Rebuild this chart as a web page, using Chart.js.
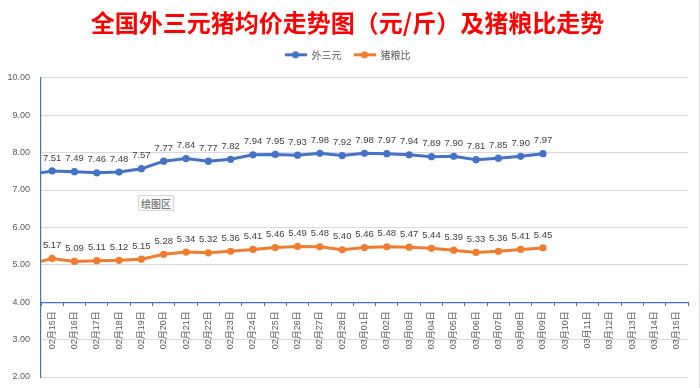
<!DOCTYPE html>
<html>
<head>
<meta charset="utf-8">
<script src="https://cdn.jsdelivr.net/npm/chart.js@4.4.1/dist/chart.umd.min.js"></script>
<style>
html,body{margin:0;padding:0;background:#fff;}
#wrap{position:relative;width:699px;height:388px;overflow:hidden;border-right:1px solid #dedede;}
#c{display:block;}
#tip{position:absolute;left:138px;top:195px;width:34px;height:14px;line-height:14px;text-align:center;
 border:1px solid #d6d6d6;background:#fafafa;color:#595959;font:10px "Noto Sans CJK SC",sans-serif;box-sizing:content-box;}
</style>
</head>
<body>
<div id="wrap"><canvas id="c" width="699" height="388"></canvas><div id="tip">绘图区</div></div>
<script>
// ---- data ----
const categories = [
  '02月15日','02月16日','02月17日','02月18日','02月19日','02月20日','02月21日','02月22日','02月23日','02月24日',
  '02月25日','02月26日','02月27日','02月28日','03月01日','03月02日','03月03日','03月04日','03月05日','03月06日',
  '03月07日','03月08日','03月09日','03月10日','03月11日','03月12日','03月13日','03月14日','03月15日'
];
const pigPrice = [7.51,7.49,7.46,7.48,7.57,7.77,7.84,7.77,7.82,7.94,7.95,7.93,7.98,7.92,7.98,7.97,7.94,7.89,7.90,7.81,7.85,7.90,7.97];
const grainRatio = [5.17,5.09,5.11,5.12,5.15,5.28,5.34,5.32,5.36,5.41,5.46,5.49,5.48,5.40,5.46,5.48,5.47,5.44,5.39,5.33,5.36,5.41,5.45];
// previous day (02月14日), only partly visible at the left edge of the plot
const leadInPigPrice = 7.41;
const leadInGrainRatio = 5.02;
const yTicks = [2,3,4,5,6,7,8,9,10];
const seriesNames = ['外三元','猪粮比'];
const titleText = '全国外三元猪均价走势图（元/斤）及猪粮比走势';

const BLUE = '#4472C4', ORANGE = '#ED7D31';
const FONT = '"Liberation Sans","Noto Sans CJK SC",sans-serif';

function toPoints(lead, vals){
  return [{x:-1, y:lead}].concat(vals.map((v,i)=>({x:i, y:v})));
}
function legendIcon(color){
  const c = document.createElement('canvas');
  c.width = 22; c.height = 9;
  const g = c.getContext('2d');
  g.strokeStyle = color; g.lineWidth = 3;
  g.beginPath(); g.moveTo(0,4.5); g.lineTo(22,4.5); g.stroke();
  g.fillStyle = color; g.beginPath(); g.arc(11,4.5,3.6,0,Math.PI*2); g.fill();
  return c;
}
const icons = [legendIcon(BLUE), legendIcon(ORANGE)];

const valueLabels = {
  id:'valueLabels',
  afterDatasetsDraw(chart){
    const ctx = chart.ctx;
    ctx.save();
    ctx.font = '9.5px ' + FONT;
    ctx.fillStyle = '#404040';
    ctx.textAlign = 'center';
    ctx.textBaseline = 'middle';
    chart.data.datasets.forEach((ds,di)=>{
      const meta = chart.getDatasetMeta(di);
      meta.data.forEach((el,i)=>{
        const raw = ds.data[i];
        if (raw.x < 0) return;
        ctx.fillText(raw.y.toFixed(2), el.x, el.y - 13);
      });
    });
    ctx.restore();
  }
};

// extra space under the legend (gap between legend and plot area)
const legendGap = {
  id:'legendGap',
  afterInit(chart){
    const lg = chart.legend;
    if (lg && !lg._gapPatched){
      const orig = lg.fit;
      lg.fit = function(){ orig.call(this); this.height += 8; };
      lg._gapPatched = true;
    }
  }
};

const pointR = ctx => (ctx.raw && ctx.raw.x < 0) ? 0 : 3.6;

new Chart(document.getElementById('c'), {
  type:'line',
  data:{
    datasets:[
      {label:seriesNames[0], data:toPoints(leadInPigPrice, pigPrice), borderColor:BLUE, backgroundColor:BLUE,
       borderWidth:3, pointRadius:pointR, pointHoverRadius:pointR, pointBackgroundColor:BLUE, pointBorderWidth:0,
       tension:0, clip:{left:0, right:false, top:false, bottom:false}},
      {label:seriesNames[1], data:toPoints(leadInGrainRatio, grainRatio), borderColor:ORANGE, backgroundColor:ORANGE,
       borderWidth:3, pointRadius:pointR, pointHoverRadius:pointR, pointBackgroundColor:ORANGE, pointBorderWidth:0,
       tension:0, clip:{left:0, right:false, top:false, bottom:false}}
    ]
  },
  options:{
    responsive:false,
    animation:false,
    events:[],
    layout:{padding:{left:7, right:11, top:0, bottom:11}},
    plugins:{
      title:{display:true, text:titleText, color:'#FF0000',
        font:{size:24, weight:'bold', family:'"Noto Sans CJK SC",sans-serif'}, padding:{top:8, bottom:1}},
      legend:{display:true, position:'top',
        labels:{usePointStyle:true, pointStyleWidth:22, boxHeight:10, padding:12, color:'#595959',
          font:{size:10, family:'"Noto Sans CJK SC",sans-serif'},
          generateLabels(chart){
            return chart.data.datasets.map((ds,i)=>({
              text:ds.label, pointStyle:icons[i], fillStyle:ds.borderColor, strokeStyle:ds.borderColor,
              lineWidth:0, hidden:false, datasetIndex:i, fontColor:'#595959'
            }));
          }}},
      tooltip:{enabled:false}
    },
    scales:{
      x:{type:'linear', position:{y:4}, min:-0.5, max:28.5,
        afterBuildTicks(scale){ scale.ticks = categories.map((_,i)=>({value:i})); },
        ticks:{autoSkip:false, maxRotation:90, minRotation:90, padding:9, color:'#595959',
          font:{size:9, family:FONT}, callback:(v)=>categories[v]},
        grid:{display:false, drawTicks:false},
        border:{display:true, color:BLUE, width:1.2}},
      x2:{type:'linear', axis:'x', position:{y:4}, min:-0.5, max:28.5,
        afterBuildTicks(scale){ scale.ticks = categories.concat(['']).map((_,i)=>({value:i-0.5})); },
        ticks:{display:false},
        grid:{display:true, drawOnChartArea:false, drawTicks:true, tickLength:4, color:BLUE, lineWidth:1},
        border:{display:false}},
      y:{type:'linear', position:'left', min:2, max:10,
        afterBuildTicks(scale){ scale.ticks = yTicks.map(v=>({value:v})); },
        afterFit(scale){ scale.width = 34; scale.paddingTop = 0; scale.paddingBottom = 0; },
        ticks:{padding:11, color:'#595959', font:{size:9, family:FONT}, callback:(v)=>Number(v).toFixed(2)},
        grid:{drawTicks:false, lineWidth:1, color:(c)=> (c.tick && c.tick.value === 4) ? BLUE : '#d9d9d9'},
        border:{display:true, color:BLUE, width:1.2}}
    }
  },
  plugins:[valueLabels, legendGap]
});
</script>
</body>
</html>
